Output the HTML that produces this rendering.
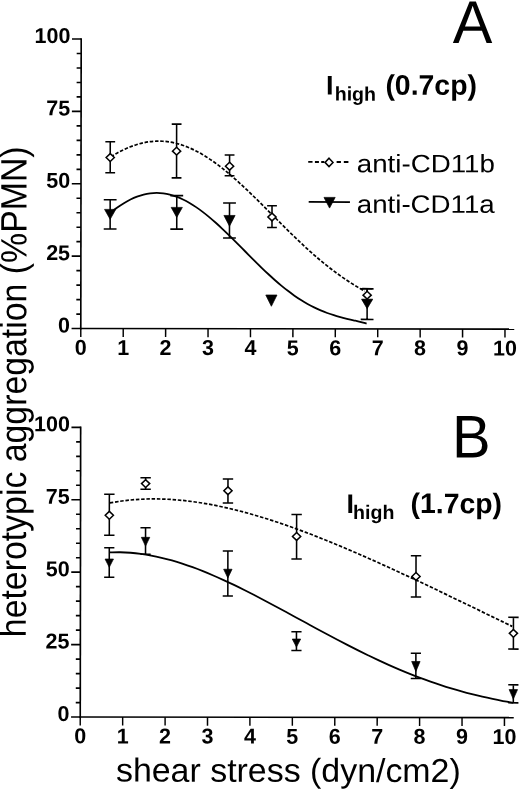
<!DOCTYPE html>
<html><head><meta charset="utf-8"><title>Figure</title>
<style>
html,body{margin:0;padding:0;background:#fff;}
svg{display:block;}
text{font-family:"Liberation Sans",sans-serif;fill:#000;}
.ax{stroke:#000;stroke-width:1.65;fill:none;}
.tick{stroke:#000;stroke-width:1.45;fill:none;}
.eb{stroke:#000;stroke-width:1.55;fill:none;}
.dia{stroke:#000;stroke-width:1.5;fill:#fff;}
.tri{stroke:#000;stroke-width:0.7;fill:#000;}
.sol{stroke:#000;stroke-width:1.8;fill:none;}
.dash{stroke:#000;stroke-width:1.7;fill:none;stroke-dasharray:3.5 1.75;}
.tk{font-size:21.5px;font-weight:bold;}
.ttl{font-size:27px;font-weight:bold;}
.sub{font-size:19.6px;font-weight:bold;}
.leg{font-size:25.2px;}
.big{font-size:60.5px;}
.yl{font-size:33.85px;}
.xl{font-size:33.3px;}
</style></head><body>
<svg width="520" height="791" viewBox="0 0 520 791">
<rect width="520" height="791" fill="#fff"/>
<g transform="rotate(0.08 260 395)">

<line x1="80.7" y1="38.40000000000001" x2="80.7" y2="329.7" class="ax"/>
<line x1="79.8" y1="328.8" x2="514.184" y2="328.8" class="ax"/>
<line x1="71.5" y1="328.80" x2="80.7" y2="328.80" class="ax"/>
<line x1="76.2" y1="314.32" x2="80.7" y2="314.32" class="ax"/>
<line x1="76.2" y1="299.85" x2="80.7" y2="299.85" class="ax"/>
<line x1="76.2" y1="285.38" x2="80.7" y2="285.38" class="ax"/>
<line x1="76.2" y1="270.90" x2="80.7" y2="270.90" class="ax"/>
<line x1="71.5" y1="256.43" x2="80.7" y2="256.43" class="ax"/>
<line x1="76.2" y1="241.95" x2="80.7" y2="241.95" class="ax"/>
<line x1="76.2" y1="227.48" x2="80.7" y2="227.48" class="ax"/>
<line x1="76.2" y1="213.00" x2="80.7" y2="213.00" class="ax"/>
<line x1="76.2" y1="198.53" x2="80.7" y2="198.53" class="ax"/>
<line x1="71.5" y1="184.05" x2="80.7" y2="184.05" class="ax"/>
<line x1="76.2" y1="169.58" x2="80.7" y2="169.58" class="ax"/>
<line x1="76.2" y1="155.10" x2="80.7" y2="155.10" class="ax"/>
<line x1="76.2" y1="140.62" x2="80.7" y2="140.62" class="ax"/>
<line x1="76.2" y1="126.15" x2="80.7" y2="126.15" class="ax"/>
<line x1="71.5" y1="111.68" x2="80.7" y2="111.68" class="ax"/>
<line x1="76.2" y1="97.20" x2="80.7" y2="97.20" class="ax"/>
<line x1="76.2" y1="82.73" x2="80.7" y2="82.73" class="ax"/>
<line x1="76.2" y1="68.25" x2="80.7" y2="68.25" class="ax"/>
<line x1="76.2" y1="53.78" x2="80.7" y2="53.78" class="ax"/>
<line x1="71.5" y1="39.30" x2="80.7" y2="39.30" class="ax"/>
<line x1="80.70" y1="328.8" x2="80.70" y2="337.2" class="tick"/>
<text x="80.70" y="355.1" class="tk" text-anchor="middle">0</text>
<line x1="123.12" y1="328.8" x2="123.12" y2="337.2" class="tick"/>
<text x="123.12" y="355.1" class="tk" text-anchor="middle">1</text>
<line x1="165.54" y1="328.8" x2="165.54" y2="337.2" class="tick"/>
<text x="165.54" y="355.1" class="tk" text-anchor="middle">2</text>
<line x1="207.96" y1="328.8" x2="207.96" y2="337.2" class="tick"/>
<text x="207.96" y="355.1" class="tk" text-anchor="middle">3</text>
<line x1="250.38" y1="328.8" x2="250.38" y2="337.2" class="tick"/>
<text x="250.38" y="355.1" class="tk" text-anchor="middle">4</text>
<line x1="292.80" y1="328.8" x2="292.80" y2="337.2" class="tick"/>
<text x="292.80" y="355.1" class="tk" text-anchor="middle">5</text>
<line x1="335.22" y1="328.8" x2="335.22" y2="337.2" class="tick"/>
<text x="335.22" y="355.1" class="tk" text-anchor="middle">6</text>
<line x1="377.64" y1="328.8" x2="377.64" y2="337.2" class="tick"/>
<text x="377.64" y="355.1" class="tk" text-anchor="middle">7</text>
<line x1="420.06" y1="328.8" x2="420.06" y2="337.2" class="tick"/>
<text x="420.06" y="355.1" class="tk" text-anchor="middle">8</text>
<line x1="462.48" y1="328.8" x2="462.48" y2="337.2" class="tick"/>
<text x="462.48" y="355.1" class="tk" text-anchor="middle">9</text>
<line x1="504.90" y1="328.8" x2="504.90" y2="337.2" class="tick"/>
<text x="504.90" y="355.1" class="tk" text-anchor="middle">10</text>
<text x="69.9" y="332.80" class="tk" text-anchor="end">0</text>
<text x="69.9" y="260.43" class="tk" text-anchor="end">25</text>
<text x="69.9" y="188.05" class="tk" text-anchor="end">50</text>
<text x="69.9" y="115.68" class="tk" text-anchor="end">75</text>
<text x="69.9" y="43.30" class="tk" text-anchor="end">100</text>
<line x1="80.7" y1="426.7" x2="80.7" y2="718.1999999999999" class="ax"/>
<line x1="79.8" y1="717.3" x2="514.184" y2="717.3" class="ax"/>
<line x1="71.5" y1="717.30" x2="80.7" y2="717.30" class="ax"/>
<line x1="76.2" y1="702.81" x2="80.7" y2="702.81" class="ax"/>
<line x1="76.2" y1="688.33" x2="80.7" y2="688.33" class="ax"/>
<line x1="76.2" y1="673.84" x2="80.7" y2="673.84" class="ax"/>
<line x1="76.2" y1="659.36" x2="80.7" y2="659.36" class="ax"/>
<line x1="71.5" y1="644.88" x2="80.7" y2="644.88" class="ax"/>
<line x1="76.2" y1="630.39" x2="80.7" y2="630.39" class="ax"/>
<line x1="76.2" y1="615.90" x2="80.7" y2="615.90" class="ax"/>
<line x1="76.2" y1="601.42" x2="80.7" y2="601.42" class="ax"/>
<line x1="76.2" y1="586.93" x2="80.7" y2="586.93" class="ax"/>
<line x1="71.5" y1="572.45" x2="80.7" y2="572.45" class="ax"/>
<line x1="76.2" y1="557.96" x2="80.7" y2="557.96" class="ax"/>
<line x1="76.2" y1="543.48" x2="80.7" y2="543.48" class="ax"/>
<line x1="76.2" y1="529.00" x2="80.7" y2="529.00" class="ax"/>
<line x1="76.2" y1="514.51" x2="80.7" y2="514.51" class="ax"/>
<line x1="71.5" y1="500.02" x2="80.7" y2="500.02" class="ax"/>
<line x1="76.2" y1="485.54" x2="80.7" y2="485.54" class="ax"/>
<line x1="76.2" y1="471.05" x2="80.7" y2="471.05" class="ax"/>
<line x1="76.2" y1="456.57" x2="80.7" y2="456.57" class="ax"/>
<line x1="76.2" y1="442.08" x2="80.7" y2="442.08" class="ax"/>
<line x1="71.5" y1="427.60" x2="80.7" y2="427.60" class="ax"/>
<line x1="80.70" y1="717.3" x2="80.70" y2="725.6999999999999" class="tick"/>
<text x="80.70" y="743.5999999999999" class="tk" text-anchor="middle">0</text>
<line x1="123.12" y1="717.3" x2="123.12" y2="725.6999999999999" class="tick"/>
<text x="123.12" y="743.5999999999999" class="tk" text-anchor="middle">1</text>
<line x1="165.54" y1="717.3" x2="165.54" y2="725.6999999999999" class="tick"/>
<text x="165.54" y="743.5999999999999" class="tk" text-anchor="middle">2</text>
<line x1="207.96" y1="717.3" x2="207.96" y2="725.6999999999999" class="tick"/>
<text x="207.96" y="743.5999999999999" class="tk" text-anchor="middle">3</text>
<line x1="250.38" y1="717.3" x2="250.38" y2="725.6999999999999" class="tick"/>
<text x="250.38" y="743.5999999999999" class="tk" text-anchor="middle">4</text>
<line x1="292.80" y1="717.3" x2="292.80" y2="725.6999999999999" class="tick"/>
<text x="292.80" y="743.5999999999999" class="tk" text-anchor="middle">5</text>
<line x1="335.22" y1="717.3" x2="335.22" y2="725.6999999999999" class="tick"/>
<text x="335.22" y="743.5999999999999" class="tk" text-anchor="middle">6</text>
<line x1="377.64" y1="717.3" x2="377.64" y2="725.6999999999999" class="tick"/>
<text x="377.64" y="743.5999999999999" class="tk" text-anchor="middle">7</text>
<line x1="420.06" y1="717.3" x2="420.06" y2="725.6999999999999" class="tick"/>
<text x="420.06" y="743.5999999999999" class="tk" text-anchor="middle">8</text>
<line x1="462.48" y1="717.3" x2="462.48" y2="725.6999999999999" class="tick"/>
<text x="462.48" y="743.5999999999999" class="tk" text-anchor="middle">9</text>
<line x1="504.90" y1="717.3" x2="504.90" y2="725.6999999999999" class="tick"/>
<text x="504.90" y="743.5999999999999" class="tk" text-anchor="middle">10</text>
<text x="69.9" y="721.30" class="tk" text-anchor="end">0</text>
<text x="69.9" y="648.88" class="tk" text-anchor="end">25</text>
<text x="69.9" y="576.45" class="tk" text-anchor="end">50</text>
<text x="69.9" y="504.02" class="tk" text-anchor="end">75</text>
<text x="69.9" y="431.60" class="tk" text-anchor="end">100</text>
<path d="M110.50 156.91C111.59 156.28 114.84 154.33 117.01 153.15C119.18 151.97 121.35 150.85 123.53 149.83C125.70 148.81 127.87 147.86 130.04 147.00C132.21 146.15 134.38 145.38 136.55 144.71C138.72 144.04 140.89 143.46 143.06 142.99C145.24 142.51 147.41 142.13 149.58 141.85C151.75 141.57 153.92 141.40 156.09 141.32C158.26 141.25 160.43 141.27 162.60 141.40C164.77 141.53 166.94 141.77 169.12 142.10C171.29 142.43 173.46 142.87 175.63 143.40C177.80 143.94 179.97 144.57 182.14 145.30C184.31 146.02 186.48 146.85 188.65 147.77C190.82 148.68 193.00 149.69 195.17 150.78C197.34 151.88 199.51 153.06 201.68 154.32C203.85 155.59 206.02 156.93 208.19 158.35C210.36 159.77 212.53 161.27 214.71 162.83C216.88 164.39 219.05 166.03 221.22 167.72C223.39 169.41 225.56 171.17 227.73 172.98C229.90 174.78 232.07 176.65 234.24 178.56C236.41 180.46 238.59 182.42 240.76 184.41C242.93 186.40 245.10 188.44 247.27 190.49C249.44 192.55 251.61 194.65 253.78 196.76C255.95 198.87 258.12 201.01 260.29 203.15C262.47 205.30 264.64 207.46 266.81 209.63C268.98 211.79 271.15 213.97 273.32 216.14C275.49 218.31 277.66 220.49 279.83 222.64C282.00 224.80 284.18 226.96 286.35 229.09C288.52 231.22 290.69 233.35 292.86 235.44C295.03 237.54 297.20 239.61 299.37 241.66C301.54 243.70 303.71 245.72 305.88 247.70C308.06 249.69 310.23 251.64 312.40 253.55C314.57 255.46 316.74 257.33 318.91 259.16C321.08 260.99 323.25 262.78 325.42 264.53C327.59 266.27 329.76 267.97 331.94 269.63C334.11 271.28 336.28 272.89 338.45 274.45C340.62 276.01 342.79 277.53 344.96 278.99C347.13 280.46 349.30 281.88 351.47 283.26C353.65 284.64 355.82 285.97 357.99 287.26C360.16 288.55 363.41 290.39 364.50 291.01" class="dash"/>
<path d="M110.50 212.61C111.59 211.79 114.88 209.23 117.06 207.69C119.25 206.15 121.44 204.70 123.63 203.37C125.82 202.05 128.00 200.83 130.19 199.74C132.38 198.66 134.57 197.69 136.76 196.87C138.94 196.04 141.13 195.34 143.32 194.78C145.51 194.23 147.70 193.81 149.88 193.53C152.07 193.25 154.26 193.11 156.45 193.11C158.64 193.11 160.82 193.25 163.01 193.53C165.20 193.80 167.39 194.22 169.58 194.77C171.76 195.31 173.95 196.00 176.14 196.80C178.33 197.60 180.52 198.54 182.71 199.59C184.89 200.63 187.08 201.81 189.27 203.08C191.46 204.35 193.65 205.74 195.83 207.22C198.02 208.69 200.21 210.28 202.40 211.94C204.59 213.60 206.77 215.35 208.96 217.17C211.15 218.99 213.34 220.89 215.53 222.84C217.71 224.78 219.90 226.80 222.09 228.86C224.28 230.91 226.47 233.02 228.65 235.15C230.84 237.28 233.03 239.45 235.22 241.63C237.41 243.81 239.59 246.02 241.78 248.22C243.97 250.41 246.16 252.63 248.35 254.82C250.53 257.02 252.72 259.21 254.91 261.37C257.10 263.53 259.29 265.68 261.47 267.79C263.66 269.89 265.85 271.97 268.04 274.00C270.23 276.02 272.41 278.01 274.60 279.94C276.79 281.86 278.98 283.74 281.17 285.55C283.35 287.36 285.54 289.11 287.73 290.78C289.92 292.46 292.11 294.07 294.29 295.60C296.48 297.13 298.67 298.59 300.86 299.97C303.05 301.35 305.24 302.65 307.42 303.88C309.61 305.10 311.80 306.25 313.99 307.32C316.18 308.40 318.36 309.39 320.55 310.32C322.74 311.25 324.93 312.10 327.12 312.89C329.30 313.69 331.49 314.41 333.68 315.09C335.87 315.77 338.06 316.38 340.24 316.97C342.43 317.57 344.62 318.10 346.81 318.63C349.00 319.16 351.18 319.65 353.37 320.17C355.56 320.68 357.75 321.17 359.94 321.71C362.12 322.25 365.41 323.12 366.50 323.40" class="sol"/>
<path d="M109.90 200.00V229.25M103.50 200.00H116.30M103.50 229.25H116.30" class="eb"/>
<path d="M104.30 209.60H115.50L109.90 219.50Z" class="tri"/>
<path d="M176.50 195.75V229.25M170.10 195.75H182.90M170.10 229.25H182.90" class="eb"/>
<path d="M170.90 207.50H182.10L176.50 217.50Z" class="tri"/>
<path d="M229.25 203.00V238.00M222.85 203.00H235.65M222.85 238.00H235.65" class="eb"/>
<path d="M223.65 215.50H234.85L229.25 226.25Z" class="tri"/>
<path d="M265.65 295.00H276.85L271.25 306.25Z" class="tri"/>
<path d="M367.00 288.70V319.25M360.60 288.70H373.40M360.60 319.25H373.40" class="eb"/>
<path d="M361.40 299.00H372.60L367.00 308.50Z" class="tri"/>
<path d="M109.90 142.00V172.90M105.00 142.00H114.80M105.00 172.90H114.80" class="eb"/>
<path d="M109.90 153.85L114.00 157.75L109.90 161.65L105.80 157.75Z" class="dia"/>
<path d="M176.25 124.25V178.00M171.35 124.25H181.15M171.35 178.00H181.15" class="eb"/>
<path d="M176.25 147.35L180.35 151.25L176.25 155.15L172.15 151.25Z" class="dia"/>
<path d="M229.25 155.00V175.75M224.35 155.00H234.15M224.35 175.75H234.15" class="eb"/>
<path d="M229.25 162.35L233.35 166.25L229.25 170.15L225.15 166.25Z" class="dia"/>
<path d="M271.75 205.75V227.50M266.85 205.75H276.65M266.85 227.50H276.65" class="eb"/>
<path d="M271.75 213.10L275.85 217.00L271.75 220.90L267.65 217.00Z" class="dia"/>
<path d="M367.00 288.50V300.00M362.10 288.50H371.90M362.10 300.00H371.90" class="eb"/>
<path d="M367.00 291.10L371.10 295.00L367.00 298.90L362.90 295.00Z" class="dia"/>
<path d="M110.00 503.16C111.72 502.88 116.88 501.92 120.32 501.43C123.76 500.93 127.20 500.52 130.64 500.18C134.08 499.85 137.52 499.59 140.96 499.41C144.40 499.22 147.84 499.12 151.28 499.07C154.72 499.03 158.16 499.06 161.60 499.16C165.04 499.25 168.48 499.41 171.92 499.64C175.36 499.86 178.80 500.14 182.24 500.48C185.68 500.82 189.12 501.23 192.56 501.68C196.00 502.13 199.44 502.64 202.88 503.20C206.32 503.76 209.76 504.37 213.21 505.03C216.65 505.69 220.09 506.40 223.53 507.15C226.97 507.90 230.41 508.70 233.85 509.54C237.29 510.37 240.73 511.25 244.17 512.17C247.61 513.09 251.05 514.05 254.49 515.04C257.93 516.03 261.37 517.07 264.81 518.13C268.25 519.19 271.69 520.29 275.13 521.42C278.57 522.54 282.01 523.70 285.45 524.89C288.89 526.08 292.33 527.30 295.77 528.54C299.21 529.78 302.65 531.05 306.09 532.34C309.53 533.64 312.97 534.96 316.41 536.30C319.85 537.64 323.29 539.00 326.73 540.38C330.17 541.77 333.61 543.17 337.05 544.59C340.49 546.01 343.93 547.45 347.37 548.91C350.81 550.37 354.25 551.84 357.69 553.33C361.13 554.82 364.57 556.32 368.01 557.84C371.45 559.36 374.89 560.89 378.33 562.43C381.77 563.97 385.21 565.53 388.65 567.09C392.09 568.66 395.53 570.24 398.97 571.82C402.41 573.41 405.85 575.00 409.29 576.60C412.74 578.21 416.18 579.82 419.62 581.44C423.06 583.05 426.50 584.68 429.94 586.31C433.38 587.94 436.82 589.57 440.26 591.21C443.70 592.85 447.14 594.50 450.58 596.15C454.02 597.79 457.46 599.45 460.90 601.10C464.34 602.76 467.78 604.41 471.22 606.07C474.66 607.73 478.10 609.39 481.54 611.05C484.98 612.71 488.42 614.38 491.86 616.04C495.30 617.70 498.74 619.36 502.18 621.03C505.62 622.69 510.78 625.18 512.50 626.01" class="dash"/>
<path d="M110.00 552.62C111.73 552.60 116.90 552.41 120.35 552.46C123.80 552.52 127.25 552.68 130.71 552.95C134.16 553.21 137.61 553.58 141.06 554.04C144.51 554.50 147.96 555.06 151.41 555.71C154.86 556.35 158.31 557.09 161.76 557.90C165.21 558.72 168.66 559.62 172.12 560.60C175.57 561.57 179.02 562.63 182.47 563.75C185.92 564.86 189.37 566.06 192.82 567.31C196.27 568.56 199.72 569.88 203.17 571.25C206.62 572.63 210.07 574.06 213.53 575.54C216.98 577.01 220.43 578.55 223.88 580.12C227.33 581.69 230.78 583.31 234.23 584.96C237.68 586.61 241.13 588.30 244.58 590.02C248.03 591.74 251.49 593.50 254.94 595.27C258.39 597.05 261.84 598.85 265.29 600.67C268.74 602.48 272.19 604.33 275.64 606.18C279.09 608.02 282.54 609.89 285.99 611.76C289.44 613.63 292.90 615.51 296.35 617.39C299.80 619.26 303.25 621.15 306.70 623.02C310.15 624.89 313.60 626.77 317.05 628.63C320.50 630.49 323.95 632.35 327.40 634.19C330.85 636.03 334.31 637.86 337.76 639.67C341.21 641.47 344.66 643.27 348.11 645.03C351.56 646.80 355.01 648.55 358.46 650.27C361.91 651.99 365.36 653.68 368.81 655.34C372.26 657.00 375.72 658.64 379.17 660.24C382.62 661.84 386.07 663.41 389.52 664.94C392.97 666.47 396.42 667.97 399.87 669.42C403.32 670.88 406.77 672.30 410.22 673.68C413.68 675.06 417.13 676.39 420.58 677.69C424.03 678.99 427.48 680.24 430.93 681.46C434.38 682.67 437.83 683.84 441.28 684.96C444.73 686.09 448.18 687.17 451.63 688.21C455.09 689.25 458.54 690.25 461.99 691.20C465.44 692.16 468.89 693.07 472.34 693.94C475.79 694.80 479.24 695.63 482.69 696.42C486.14 697.21 489.59 697.95 493.04 698.66C496.50 699.37 499.95 700.04 503.40 700.68C506.85 701.31 512.02 702.18 513.75 702.48" class="sol"/>
<path d="M109.50 494.50V535.50M104.30 494.50H114.70M104.30 535.50H114.70" class="eb"/>
<path d="M109.50 511.60L113.60 515.50L109.50 519.40L105.40 515.50Z" class="dia"/>
<path d="M145.75 478.00V489.50M140.55 478.00H150.95M140.55 489.50H150.95" class="eb"/>
<path d="M145.75 479.85L149.85 483.75L145.75 487.65L141.65 483.75Z" class="dia"/>
<path d="M228.10 479.10V503.00M222.90 479.10H233.30M222.90 503.00H233.30" class="eb"/>
<path d="M228.10 486.90L232.20 490.80L228.10 494.70L224.00 490.80Z" class="dia"/>
<path d="M296.80 514.40V559.00M291.60 514.40H302.00M291.60 559.00H302.00" class="eb"/>
<path d="M296.80 532.50L300.90 536.40L296.80 540.30L292.70 536.40Z" class="dia"/>
<path d="M416.25 555.50V596.75M411.05 555.50H421.45M411.05 596.75H421.45" class="eb"/>
<path d="M416.25 572.35L420.35 576.25L416.25 580.15L412.15 576.25Z" class="dia"/>
<path d="M513.75 617.00V648.75M508.55 617.00H518.95M508.55 648.75H518.95" class="eb"/>
<path d="M513.75 629.10L517.85 633.00L513.75 636.90L509.65 633.00Z" class="dia"/>
<path d="M109.50 548.00V577.50M104.40 548.00H114.60M104.40 577.50H114.60" class="eb"/>
<path d="M105.30 559.25H113.70L109.50 567.50Z" class="tri"/>
<path d="M145.75 528.00V554.50M140.65 528.00H150.85M140.65 554.50H150.85" class="eb"/>
<path d="M141.55 537.50H149.95L145.75 546.25Z" class="tri"/>
<path d="M228.10 551.00V596.10M223.00 551.00H233.20M223.00 596.10H233.20" class="eb"/>
<path d="M223.90 569.30H232.30L228.10 578.00Z" class="tri"/>
<path d="M296.80 631.70V650.50M291.70 631.70H301.90M291.70 650.50H301.90" class="eb"/>
<path d="M292.60 639.00H301.00L296.80 647.00Z" class="tri"/>
<path d="M416.25 653.00V678.25M411.15 653.00H421.35M411.15 678.25H421.35" class="eb"/>
<path d="M412.05 661.25H420.45L416.25 671.25Z" class="tri"/>
<path d="M513.75 684.50V702.50M508.65 684.50H518.85M508.65 702.50H518.85" class="eb"/>
<path d="M509.55 689.25H517.95L513.75 698.75Z" class="tri"/>
<text x="452.3" y="42.6" class="big" textLength="39.6" lengthAdjust="spacingAndGlyphs">A</text>
<text x="452" y="457.2" class="big" textLength="38.6" lengthAdjust="spacingAndGlyphs">B</text>
<text x="325.5" y="94.5" class="ttl">I<tspan class="sub" x="334.3" dy="6">high</tspan><tspan x="385" dy="-6" style="font-size:28.4px">(0.7cp)</tspan></text>
<text x="346.7" y="512.9" class="ttl">I<tspan class="sub" x="353.3" dy="6">high</tspan><tspan x="410.7" dy="-6" style="font-size:28.4px">(1.7cp)</tspan></text>
<path d="M307.9 161.9H312.2M314.6 161.9H318.6M320.9 161.9H324M336.3 161.9H340.6M343.5 161.9H348.1" class="sol"/><path d="M328.70 158.10L332.70 162.30L328.70 166.50L324.70 162.30Z" class="dia"/>
<path d="M308.4 201.9H349.7" class="sol"/><path d="M323.70 197.30H334.90L329.30 208.00Z" class="tri"/>
<text x="356.5" y="172" class="leg" textLength="138" lengthAdjust="spacingAndGlyphs">anti-CD11b</text>
<text x="356.5" y="212.5" class="leg" textLength="138" lengthAdjust="spacingAndGlyphs">anti-CD11a</text>
<text transform="translate(26.2,637.5) rotate(-90) scale(1,1.085)" class="yl">heterotypic aggregation (%PMN)</text>
<text x="116.5" y="781.75" class="xl" textLength="344.8" lengthAdjust="spacingAndGlyphs">shear stress (dyn/cm2)</text>
</g></svg></body></html>
